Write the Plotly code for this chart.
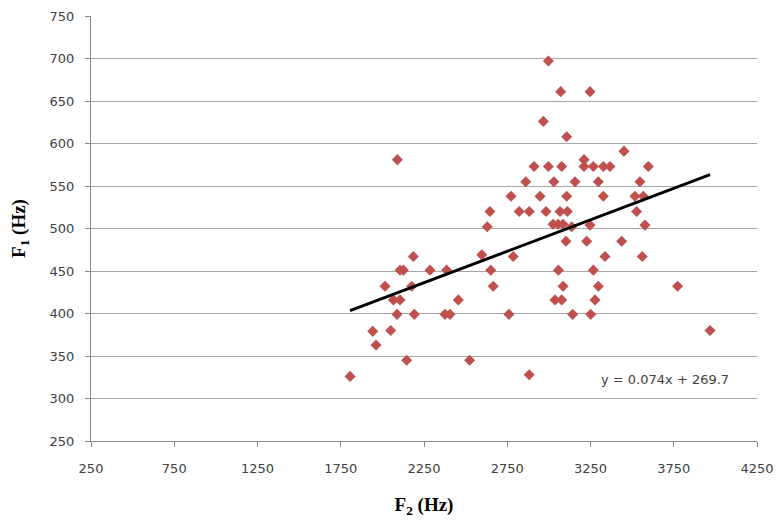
import plotly.graph_objects as go

# F2 (Hz) and F1 (Hz) values
f2 = [1806, 1942, 1962, 2050, 2088, 2192, 2146, 2376, 2406, 2524, 2760, 2882,
      2090, 2911, 2997, 3077, 3211, 3267, 3327, 3367, 3597, 3211, 3451, 2997,
      3071, 3247, 2967, 3107, 2861, 3030, 3157, 3297, 3547, 2773, 2947, 3107,
      3327, 3517, 3567, 2646, 2822, 2882, 2983, 3067, 3111, 3527, 2630, 3025,
      3055, 3085, 3137, 3247, 3577, 3103, 3227, 3437, 2186, 2597, 2786, 3337,
      3561, 2106, 2126, 2286, 2386, 2651, 3057, 3267, 2016, 2176, 2666, 3085,
      3297, 3773, 2066, 2106, 2456, 3037, 3077, 3277, 3143, 3251, 3968]
f1 = [326, 379, 363, 380, 399, 399, 345, 399, 399, 345, 399, 328,
      581, 573, 573, 573, 573, 573, 573, 573, 573, 581, 591, 697,
      661, 661, 626, 608, 555, 555, 555, 555, 555, 538, 538, 538,
      538, 538, 538, 520, 520, 520, 520, 520, 520, 520, 502, 505,
      505, 505, 502, 504, 504, 485, 485, 485, 467, 469, 467, 467,
      467, 451, 451, 451, 451, 451, 451, 451, 432, 432, 432, 432,
      432, 432, 416, 416, 416, 416, 416, 416, 399, 399, 380]

# Linear trendline as printed on the chart
slope = 0.074
intercept = 269.7
eq_label = "y = 0.074x + 269.7"

x_ticks = [250, 750, 1250, 1750, 2250, 2750, 3250, 3750, 4250]
y_ticks = [250, 300, 350, 400, 450, 500, 550, 600, 650, 700, 750]

trend_x = [min(f2), max(f2)]
trend_y = [slope * v + intercept for v in trend_x]

fig = go.Figure()
fig.add_trace(go.Scatter(
    x=f2, y=f1, mode="markers",
    marker=dict(symbol="diamond", size=8.5, color="#C0504D", line=dict(width=0)),
    showlegend=False, hoverinfo="x+y"))
fig.add_trace(go.Scatter(
    x=trend_x, y=trend_y, mode="lines",
    line=dict(color="black", width=3), showlegend=False, hoverinfo="skip"))

fig.add_annotation(x=3697, y=322, text=eq_label, showarrow=False,
                   font=dict(family="DejaVu Sans", size=13, color="#404040"))

axis_font = dict(family="DejaVu Sans", size=13, color="#404040")
title_font = dict(family="Liberation Serif", size=19, color="black")

fig.update_layout(
    width=766, height=510,
    margin=dict(l=83, r=17, t=8, b=77, autoexpand=False),
    paper_bgcolor="white", plot_bgcolor="white",
    xaxis=dict(
        range=[250, 4250], tickvals=x_ticks, ticktext=[str(v) for v in x_ticks],
        showgrid=False, zeroline=False,
        showline=True, linecolor="#868686", linewidth=1,
        ticks="outside", ticklen=5, tickcolor="#868686",
        tickfont=axis_font, ticklabelstandoff=10,
        title=dict(text="<b>F<sub>2</sub> (Hz)</b>", font=title_font, standoff=32),
    ),
    yaxis=dict(
        range=[250, 750], tickvals=y_ticks, ticktext=[str(v) for v in y_ticks],
        showgrid=True, gridcolor="#A6A6A6", gridwidth=1, zeroline=False,
        showline=True, linecolor="#868686", linewidth=1,
        ticks="outside", ticklen=5, tickcolor="#868686",
        tickfont=axis_font, ticklabelstandoff=8,
        title=dict(text="<b>F<sub>1</sub> (Hz)</b>", font=title_font, standoff=18),
    ),
)

fig.write_html("out.html")
